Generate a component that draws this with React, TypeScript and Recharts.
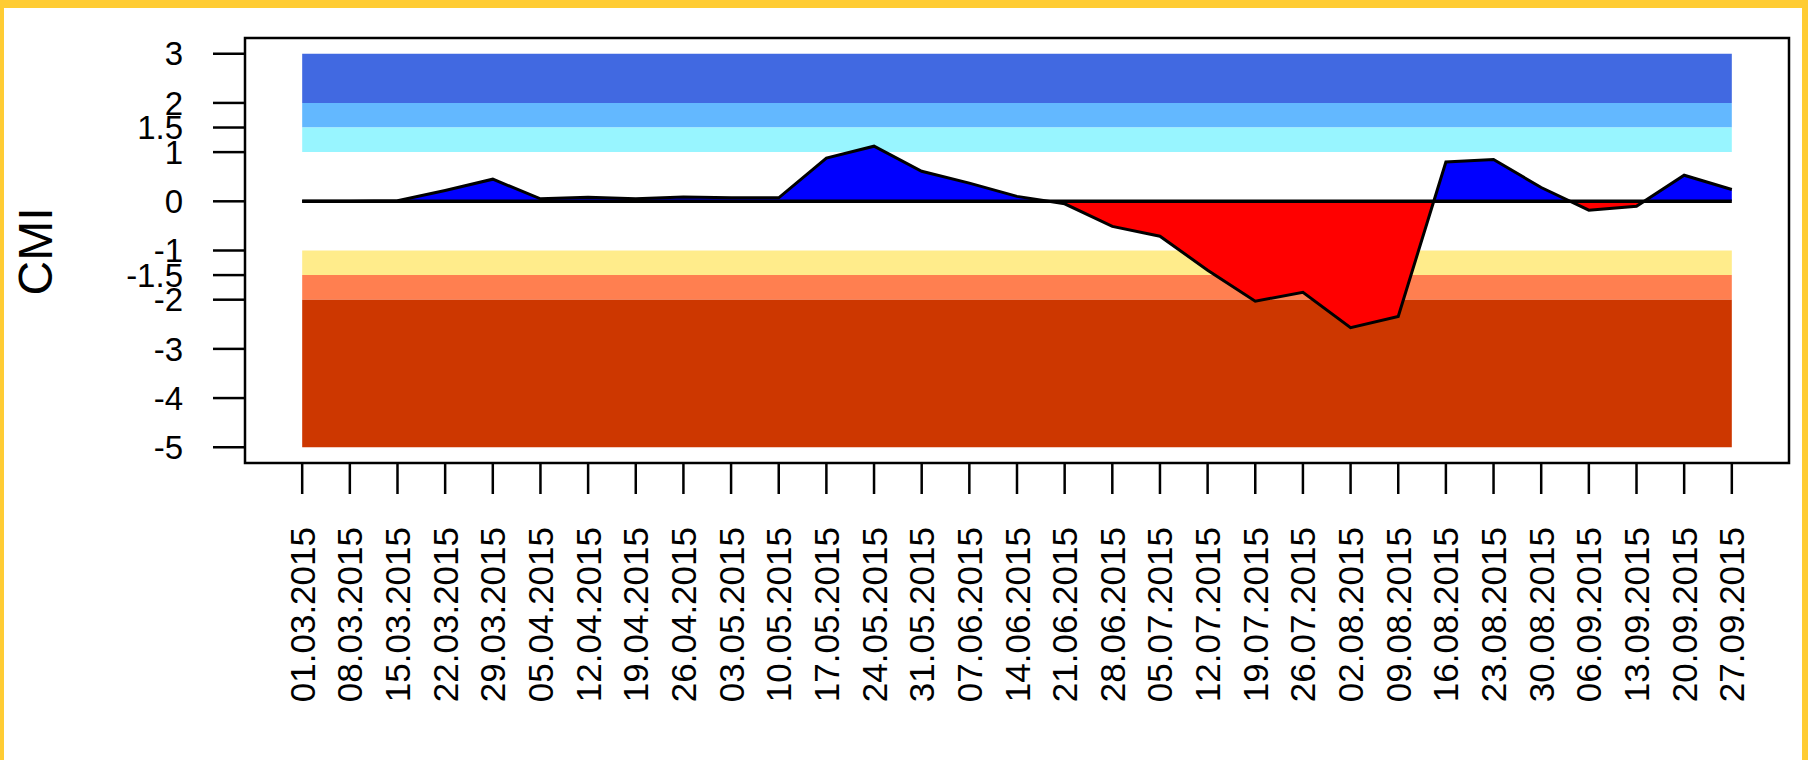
import { ComposedChart, Area, XAxis, YAxis, ReferenceArea, ReferenceLine, Label } from "recharts";

const dates = [
  "01.03.2015", "08.03.2015", "15.03.2015", "22.03.2015", "29.03.2015",
  "05.04.2015", "12.04.2015", "19.04.2015", "26.04.2015",
  "03.05.2015", "10.05.2015", "17.05.2015", "24.05.2015", "31.05.2015",
  "07.06.2015", "14.06.2015", "21.06.2015", "28.06.2015",
  "05.07.2015", "12.07.2015", "19.07.2015", "26.07.2015",
  "02.08.2015", "09.08.2015", "16.08.2015", "23.08.2015", "30.08.2015",
  "06.09.2015", "13.09.2015", "20.09.2015", "27.09.2015",
];

const cmi = [
  0, 0, 0.01, 0.22, 0.45,
  0.05, 0.08, 0.05, 0.09,
  0.07, 0.07, 0.88, 1.12, 0.61,
  0.37, 0.1, -0.05, -0.51,
  -0.71, -1.4, -2.03, -1.85,
  -2.57, -2.34, 0.8, 0.85, 0.28,
  -0.18, -0.1, 0.53, 0.24,
];

const yTicks = [3, 2, 1.5, 1, 0, -1, -1.5, -2, -3, -4, -5];

// colour bands behind the series
const bandFrom = [2, 1.5, 1, -1, -1.5, -2];
const bandTo = [3, 2, 1.5, -1.5, -2, -5];
const bandColors = ["#4169E1", "#63B8FF", "#98F5FF", "#FFEC8B", "#FF7F50", "#CD3700"];

const font = "'Liberation Sans', Arial, Helvetica, sans-serif";

const data = dates.map((d, i) => ({ idx: i, date: d, cmi: cmi[i] }));

const maxV = Math.max(...cmi, 0);
const minV = Math.min(...cmi, 0);
const zeroOffset = maxV / (maxV - minV);

const xDomain: [number, number] = [-1.2, 31.2];
const yDomain: [number, number] = [-5.32, 3.32];

function DateTick(props: any) {
  const { x, y, payload } = props;
  return (
    <text
      x={x}
      y={y}
      transform={`rotate(-90 ${x} ${y})`}
      textAnchor="end"
      dominantBaseline="central"
      fontFamily={font}
      fontSize={35}
      fill="#000"
    >
      {dates[payload.value]}
    </text>
  );
}

function CmiLabel(props: any) {
  const vb = props.viewBox || { x: 45, y: 38, width: 200, height: 425 };
  const x = vb.x + 7;
  const y = vb.y + vb.height / 2 + 1;
  return (
    <text
      x={x}
      y={y}
      transform={`rotate(-90 ${x} ${y})`}
      textAnchor="middle"
      fontFamily={font}
      fontSize={48}
      fill="#000"
    >
      CMI
    </text>
  );
}

export default function App() {
  return (
    <div style={{ position: "absolute", left: 0, top: 0, width: 1808, height: 760, background: "#FFCC33" }}>
      <div style={{ position: "absolute", left: 4, top: 8, right: 6, bottom: 0, background: "#fff" }} />
      <div style={{ position: "absolute", left: 0, top: 0 }}>
        <ComposedChart
          width={1808}
          height={760}
          data={data}
          margin={{ top: 38, right: 19, left: 45, bottom: 47 }}
        >
          <defs>
            <linearGradient id="cmiFill" x1="0" y1="0" x2="0" y2="1">
              <stop offset={zeroOffset} stopColor="#0000FF" />
              <stop offset={zeroOffset} stopColor="#FF0000" />
            </linearGradient>
          </defs>
          <XAxis
            dataKey="idx"
            type="number"
            domain={xDomain}
            ticks={dates.map((_, i) => i)}
            interval={0}
            allowDataOverflow
            axisLine={false}
            tickLine={{ stroke: "#000", strokeWidth: 2.5 }}
            tickSize={31}
            tickMargin={33}
            height={250}
            tick={<DateTick />}
          />
          <YAxis
            type="number"
            domain={yDomain}
            ticks={yTicks}
            interval={0}
            allowDataOverflow
            axisLine={false}
            tickLine={{ stroke: "#000", strokeWidth: 2.5 }}
            tickSize={32}
            tickMargin={30}
            width={200}
            tick={{ fill: "#000", fontSize: 33, fontFamily: font }}
          >
            <Label content={<CmiLabel />} />
          </YAxis>
          {bandColors.map((c, i) => (
            <ReferenceArea
              key={c}
              x1={0}
              x2={dates.length - 1}
              y1={bandFrom[i]}
              y2={bandTo[i]}
              fill={c}
              fillOpacity={1}
              stroke="none"
              ifOverflow="visible"
              zIndex={50}
            />
          ))}
          <Area
            type="linear"
            dataKey="cmi"
            baseValue={0}
            stroke="#000"
            strokeWidth={3}
            fill="url(#cmiFill)"
            fillOpacity={1}
            dot={false}
            activeDot={false}
            isAnimationActive={false}
            zIndex={100}
          />
          <ReferenceLine
            segment={[{ x: 0, y: 0 }, { x: dates.length - 1, y: 0 }]}
            stroke="#000"
            strokeWidth={3.5}
            ifOverflow="visible"
            zIndex={200}
          />
          <ReferenceArea
            x1={xDomain[0]}
            x2={xDomain[1]}
            y1={yDomain[0]}
            y2={yDomain[1]}
            fill="none"
            stroke="#000"
            strokeWidth={2.5}
            ifOverflow="visible"
            zIndex={200}
          />
        </ComposedChart>
      </div>
    </div>
  );
}
